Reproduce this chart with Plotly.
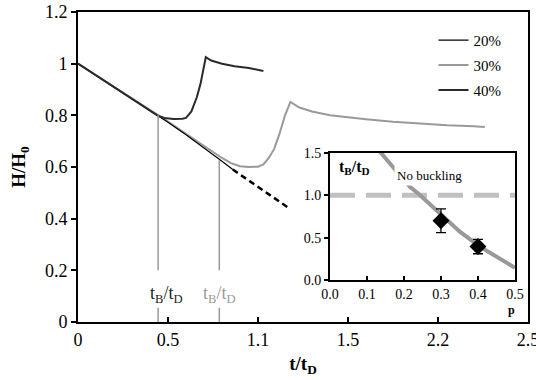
import plotly.graph_objects as go

# ---- main panel data ----
t_20 = [0, 0.1, 0.2, 0.3, 0.4, 0.5, 0.6, 0.7, 0.8, 0.86]
H_20 = [1.0, 0.955, 0.91, 0.866, 0.82, 0.773, 0.725, 0.675, 0.622, 0.59]

t_fit = [0.86, 1.18]
H_fit = [0.59, 0.437]

t_30 = [0, 0.1, 0.2, 0.3, 0.4, 0.5, 0.6, 0.7, 0.8, 0.85, 0.9, 0.95, 1.0, 1.03, 1.06,
        1.09, 1.12, 1.15, 1.18, 1.23, 1.3, 1.4, 1.5, 1.6, 1.75, 1.9, 2.05, 2.2, 2.26]
H_30 = [1.0, 0.955, 0.91, 0.866, 0.822, 0.776, 0.728, 0.68, 0.635, 0.615, 0.603, 0.600,
        0.601, 0.61, 0.635, 0.67, 0.73, 0.80, 0.852, 0.83, 0.815, 0.80, 0.792, 0.785,
        0.775, 0.768, 0.762, 0.758, 0.755]

t_40 = [0, 0.1, 0.2, 0.3, 0.4, 0.44, 0.48, 0.53, 0.58, 0.6, 0.63, 0.66, 0.68, 0.695,
        0.71, 0.74, 0.8, 0.87, 0.95, 1.03]
H_40 = [1.0, 0.955, 0.91, 0.866, 0.82, 0.80, 0.79, 0.786, 0.787, 0.79, 0.815, 0.87,
        0.92, 0.97, 1.025, 1.012, 1.0, 0.99, 0.983, 0.972]

series_names = ["20%", "30%", "40%"]

# buckling times marked on the main panel
tB_values = [0.445, 0.785]
tB_H = [0.80, 0.627]
tB_label_t = [0.490, 0.785]
tB_colors = ["#222222", "#999999"]

x_tickvals = [0, 0.5, 1, 1.5, 2, 2.5]
x_ticktext = ["0", "0.5", "1.1", "1.5", "2.2", "2.5"]
y_tickvals = [0, 0.2, 0.4, 0.6, 0.8, 1.0, 1.2]
y_ticktext = ["0", "0.2", "0.4", "0.6", "0.8", "1", "1.2"]

# ---- inset data ----
p_curve = [0.135, 0.162, 0.2, 0.216, 0.243, 0.297, 0.351, 0.405, 0.459, 0.5]
v_curve = [1.515, 1.378, 1.19, 1.10, 1.004, 0.788, 0.571, 0.394, 0.256, 0.145]
p_pts = [0.3, 0.4]
v_pts = [0.70, 0.395]
v_err = [0.14, 0.085]
nobuck_level = [1.0, 1.0]
nobuck_p = [0.0, 0.5]

FONT = "Liberation Serif, Times New Roman, serif"

fig = go.Figure()

# main curves
fig.add_trace(go.Scatter(x=t_30, y=H_30, mode="lines", name=series_names[1],
                         line=dict(color="#999999", width=2), legendrank=2,
                         legendgroup="b"))
fig.add_trace(go.Scatter(x=t_20, y=H_20, mode="lines", name=series_names[0],
                         line=dict(color="black", width=1.2), legendrank=1,
                         legendgroup="a"))
fig.add_trace(go.Scatter(x=t_40, y=H_40, mode="lines", name=series_names[2],
                         line=dict(color="#2a2a2a", width=2), legendrank=3,
                         legendgroup="c"))
fig.add_trace(go.Scatter(x=t_fit, y=H_fit, mode="lines", showlegend=False,
                         line=dict(color="black", width=2.5, dash="6px,4px")))

# vertical markers
for tb, hb in zip(tB_values, tB_H):
    fig.add_trace(go.Scatter(x=[tb, tb, None, tb, tb], y=[hb, 0.2, None, 0.055, 0],
                             mode="lines", showlegend=False,
                             line=dict(color="#999999", width=1.5)))
for tl, col in zip(tB_label_t, tB_colors):
    fig.add_annotation(x=tl, y=0.105, xref="x", yref="y", showarrow=False,
                       text="t<sub>B</sub>/t<sub>D</sub>",
                       font=dict(family=FONT, size=18, color=col))

# inset traces
fig.add_trace(go.Scatter(x=nobuck_p, y=nobuck_level, xaxis="x2", yaxis="y2",
                         mode="lines", showlegend=False,
                         line=dict(color="#c0c0c0", width=5, dash="25px,11px")))
fig.add_trace(go.Scatter(x=p_curve, y=v_curve, xaxis="x2", yaxis="y2",
                         mode="lines", showlegend=False,
                         line=dict(color="#999999", width=4)))
fig.add_trace(go.Scatter(x=p_pts, y=v_pts, xaxis="x2", yaxis="y2",
                         mode="markers", showlegend=False, cliponaxis=False,
                         marker=dict(symbol="diamond", size=13, color="black"),
                         error_y=dict(type="data", array=v_err, color="black",
                                      thickness=1.3, width=5)))

fig.add_annotation(x=0.02, y=1.33, xref="x2", yref="y2", showarrow=False,
                   xanchor="left", text="<b>t<sub>B</sub>/t<sub>D</sub></b>",
                   font=dict(family=FONT, size=16, color="black"))
fig.add_annotation(x=0.268, y=1.24, xref="x2", yref="y2", showarrow=False,
                   text="No buckling", bgcolor="white", borderpad=2,
                   font=dict(family=FONT, size=13, color="black"))
fig.add_annotation(x=0.975, y=0.01, xref="paper", yref="paper", showarrow=False,
                   yanchor="bottom",
                   text="<b>p</b>", font=dict(family=FONT, size=12, color="black"))

fig.update_layout(
    width=536, height=380,
    margin=dict(l=78, r=8, t=12, b=58, autoexpand=False),
    paper_bgcolor="white", plot_bgcolor="white",
    font=dict(family=FONT, size=18, color="black"),
    showlegend=True,
    legend=dict(x=0.79, y=0.962, xanchor="left", yanchor="top",
                bgcolor="rgba(0,0,0,0)", font=dict(family=FONT, size=15),
                itemwidth=30, tracegroupgap=2.5),
    xaxis=dict(range=[0, 2.5], tickvals=x_tickvals, ticktext=x_ticktext,
               ticks="inside", ticklen=5, tickwidth=1.5, tickcolor="black",
               showline=True, linecolor="black", linewidth=2, mirror=True,
               showgrid=False, zeroline=False, automargin=False,
               ticklabeloverflow="allow",
               title=dict(text="<b>t/t<sub>D</sub></b>", font=dict(size=19),
                          standoff=8)),
    yaxis=dict(range=[0, 1.2], tickvals=y_tickvals, ticktext=y_ticktext,
               ticks="outside", ticklen=5, tickwidth=1.5, tickcolor="black",
               showline=True, linecolor="black", linewidth=2, mirror=True,
               showgrid=False, zeroline=False, automargin=False,
               ticklabeloverflow="allow",
               title=dict(text="<b>H/H<sub>0</sub></b>", font=dict(size=19),
                          standoff=14)),
    xaxis2=dict(domain=[0.56, 0.971], anchor="y2", range=[0, 0.5],
                tickvals=[0, 0.1, 0.2, 0.3, 0.4, 0.5], tickformat=".1f",
                ticks="inside", ticklen=4, tickwidth=1.5, tickcolor="black",
                showline=True, linecolor="black", linewidth=2, mirror=True,
                showgrid=False, zeroline=False, tickfont=dict(size=14),
                automargin=False, ticklabeloverflow="allow"),
    yaxis2=dict(domain=[0.1355, 0.545], anchor="x2", range=[0, 1.5],
                tickvals=[0, 0.5, 1.0, 1.5], tickformat=".1f",
                ticks="outside", ticklen=4, tickwidth=1.5, tickcolor="black",
                showline=True, linecolor="black", linewidth=2, mirror=True,
                showgrid=False, zeroline=False, tickfont=dict(size=14),
                automargin=False, ticklabeloverflow="allow"),
)

fig.add_shape(type="rect", xref="paper", yref="paper", x0=0.56, x1=0.971,
              y0=0.1355, y1=0.545, fillcolor="white", line=dict(width=0),
              layer="below")

fig.write_html("out.html")
